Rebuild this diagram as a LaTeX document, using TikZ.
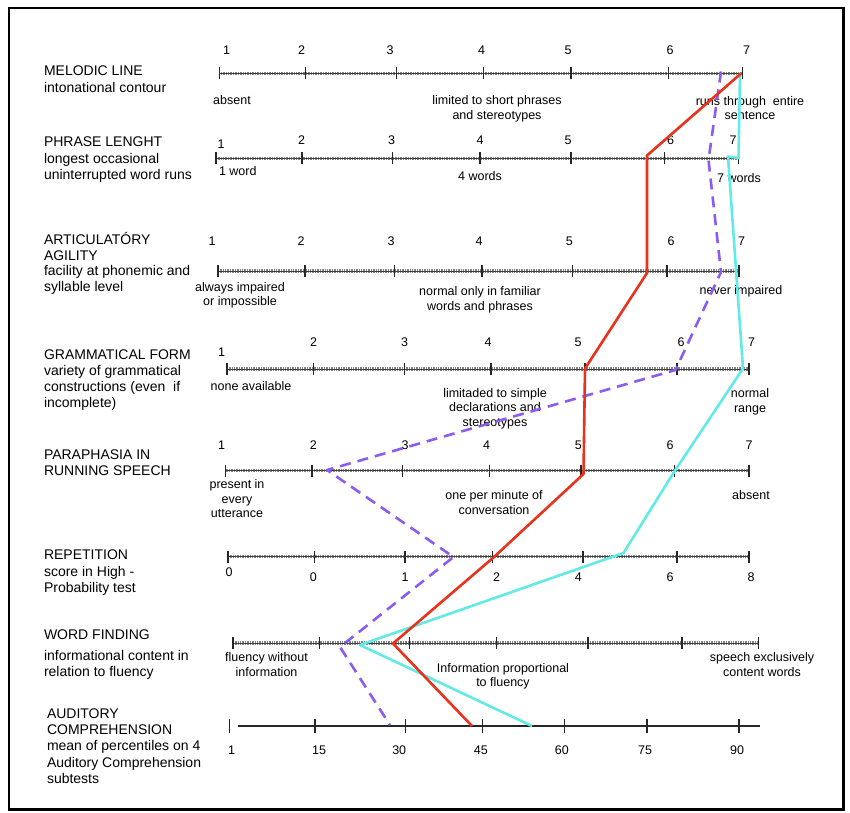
\documentclass[tikz,border=0pt]{standalone}
\usepackage{fontspec}
\setmainfont{Liberation Sans}
\usetikzlibrary{shapes,arrows}
\definecolor{profred}{RGB}{232,50,28}
\definecolor{profcyan}{RGB}{98,234,230}
\definecolor{profviolet}{RGB}{138,92,240}

\begin{document}
\begin{tikzpicture}[x=1pt,y=-1pt]
\tikzstyle{every node}=[inner sep=0pt,outer sep=0pt]
\tikzstyle{scale name}=[anchor=base west,align=left,font=\fontsize{14}{16.3}\selectfont]
\tikzstyle{anchor text}=[anchor=base,align=center,font=\fontsize{12.5}{14.5}\selectfont]
\tikzstyle{num}=[anchor=base,font=\fontsize{12.5}{14}\selectfont]
\tikzstyle{ruler}=[draw=black!75,line width=0.5pt]
\tikzstyle{hatch}=[draw=black!50,line width=3.2pt,dash pattern=on 0.6pt off 1.1pt]
\tikzstyle{major}=[draw=black!85,line width=1.4pt]
\tikzstyle{solid axis}=[draw=black!85,line width=1.6pt]
\tikzstyle{profile}=[line width=2.6pt,line join=round]

\useasboundingbox (0,0) rectangle (850,812);
\fill[white] (0,0) rectangle (850,812);
\draw[line width=2.4pt] (9,8) rectangle (843.5,809.5);

% multi-line nodes sit on the baseline of their last line
% melodic line
\draw[hatch] (219.3,73.3) -- (742.7,73.3);
\draw[ruler] (219.3,73.3) -- (742.7,73.3);
\foreach \x in {219.3,305.3,396.7,483.3,571,668.3,742.7}
  \draw[major] (\x,67.3) -- (\x,79.3);
\foreach \x/\y/\n [count=\i] in {226.7/54.5/1,301.7/54.5/2,390/54.5/3,481.7/54.5/4,568/54.5/5,670/54.5/6,746.7/54.5/7}
  \node[num] (ma\i) at (\x,\y) {\n};
\node[scale name] (melodic) at (44,92) {MELODIC LINE\\intonational contour};
\node[anchor text] (absentA) at (232,104.5) {absent};
\node[anchor text] (limited) at (497,119) {limited to short phrases\\and stereotypes};
\node[anchor text] (runs) at (750,119.5) {runs through\ \ entire\\sentence};

% phrase length
\draw[hatch] (216,158.3) -- (738.5,158.3);
\draw[ruler] (216,158.3) -- (738.5,158.3);
\foreach \x in {216,302,392.3,480,571,664.5,738.5}
  \draw[major] (\x,152.3) -- (\x,164.3);
\foreach \x/\y/\n [count=\i] in {221/148.5/1,301.7/144/2,391.7/144/3,480/144/4,568/144/5,670.7/144.5/6,733/144.5/7}
  \node[num] (pl\i) at (\x,\y) {\n};
\node[scale name] (phrase) at (44,179.5) {PHRASE LENGHT\\longest occasional\\uninterrupted word runs};
\node[anchor text,anchor=base west] (oneword) at (219,175.5) {1 word};
\node[anchor text] (fourwords) at (480,180) {4 words};
\node[anchor text] (sevenwords) at (739,182.5) {7 words};

% articulatory agility
\draw[hatch] (218,271) -- (739,271);
\draw[ruler] (218,271) -- (739,271);
\foreach \x in {218,305,394.5,481.8,572.5,667,739}
  \draw[major] (\x,265) -- (\x,277);
\foreach \x/\y/\n [count=\i] in {212/245/1,301/245/2,391/245/3,479/245/4,569.3/245/5,671/245/6,741.7/245/7}
  \node[num] (aa\i) at (\x,\y) {\n};
\node[scale name,font=\fontsize{14}{15.7}\selectfont] (artic) at (44,291.5) {ARTICULATÓRY\\AGILITY\\facility at phonemic and\\syllable level};
\node[anchor text] (always) at (240,305.5) {always impaired\\or impossible};
\node[anchor text] (familiar) at (480,310) {normal only in familiar\\words and phrases};
\node[anchor text] (never) at (741,294.5) {never impaired};

% grammatical form
\draw[hatch] (227,369) -- (749,369);
\draw[ruler] (227,369) -- (749,369);
\foreach \x in {227,313.6,404.2,491,584.9,677,749}
  \draw[major] (\x,363) -- (\x,375);
\foreach \x/\y/\n [count=\i] in {221.5/356.5/1,313.6/346.5/2,404.5/346.5/3,488/346.5/4,578/346.5/5,681/346.5/6,751.5/346.5/7}
  \node[num] (gf\i) at (\x,\y) {\n};
\node[scale name,font=\fontsize{14}{15.9}\selectfont] (gram) at (44,407) {GRAMMATICAL FORM\\variety of grammatical\\constructions (even\ \ if\\incomplete)};
\node[anchor text] (none) at (251,390) {none available};
\node[anchor text] (simple) at (495,426) {limitaded to simple\\declarations and\\stereotypes};
\node[anchor text] (normal) at (750,412) {normal\\range};

% paraphasia
\draw[hatch] (225.5,470.5) -- (749,470.5);
\draw[ruler] (225.5,470.5) -- (749,470.5);
\foreach \x in {225.5,312,402.7,489.5,581,674.5,749}
  \draw[major] (\x,464.5) -- (\x,476.5);
\foreach \x/\y/\n [count=\i] in {221.5/449.5/1,313.3/449.5/2,405/449.5/3,486.7/449.5/4,578.3/449.5/5,670/449.5/6,749/449.5/7}
  \node[num] (ps\i) at (\x,\y) {\n};
\node[scale name] (para) at (44,475.5) {PARAPHASIA IN\\RUNNING SPEECH};
\node[anchor text] (present) at (237,517.5) {present in\\every\\utterance};
\node[anchor text] (perminute) at (494,514) {one per minute of\\conversation};
\node[anchor text] (absentB) at (751,499.5) {absent};

% repetition
\draw[hatch] (228,556.5) -- (749,556.5);
\draw[ruler] (228,556.5) -- (749,556.5);
\foreach \x in {228,314.5,405,492.5,582.8,677,749}
  \draw[major] (\x,550.5) -- (\x,562.5);
\foreach \x/\y/\n [count=\i] in {229/576.5/0,313.3/581/0,405/581/1,496.7/581/2,578.3/581/4,670/581/6,751/581/8}
  \node[num] (rp\i) at (\x,\y) {\n};
\node[scale name] (rep) at (44,592.5) {REPETITION\\score in High -\\Probability test};

% word finding
\draw[hatch] (233,643) -- (758.5,643);
\draw[ruler] (233,643) -- (758.5,643);
\foreach \x in {233,319.5,409.5,496.6,588,682,758.5}
  \draw[major] (\x,637) -- (\x,649);
\node[scale name] (word) at (44,676.5) {WORD FINDING\\[4pt]informational content in\\relation to fluency};
\node[anchor text] (nofluency) at (266.5,676) {fluency without\\information};
\node[anchor text] (proportional) at (503,686.5) {Information proportional\\to fluency};
\node[anchor text] (content) at (762,676) {speech exclusively\\content words};

% auditory comprehension
\draw[solid axis] (238.3,726) -- (759.6,726);
\foreach \x in {229.3,315,405.7,482.7,564.3,646.8,739}
  \draw[major] (\x,719) -- (\x,733);
\foreach \x/\y/\n [count=\i] in {231.7/754.5/1,319/754.5/15,399.2/754.5/30,480.8/754.5/45,561.8/754.5/60,645/754.5/75,737/754.5/90}
  \node[num] (ac\i) at (\x,\y) {\n};
\node[scale name] (audit) at (47,783.5) {AUDITORY\\COMPREHENSION\\mean of percentiles on 4\\Auditory Comprehension\\subtests};

% profiles
\coordinate (r1) at (741,73.5);
\coordinate (r2) at (647,155.5);
\coordinate (r3) at (647,273);
\coordinate (r4) at (585,368.5);
\coordinate (r5) at (583.5,474);
\coordinate (r6) at (494,557);
\coordinate (r7) at (393,643.5);
\coordinate (r8) at (472,726);
\coordinate (c1) at (740,73.5);
\coordinate (c2) at (738.5,158);
\coordinate (c3) at (728,156.5);
\coordinate (c4) at (743,368.5);
\coordinate (c5) at (675,470.5);
\coordinate (c6) at (623.5,553);
\coordinate (c7) at (360,645);
\coordinate (c8) at (532,726);
\coordinate (p1) at (721,71.5);
\coordinate (p2) at (708.5,160);
\coordinate (p3) at (721,272);
\coordinate (p4) at (675.5,370);
\coordinate (p5) at (327,470);
\coordinate (p6) at (453.5,557);
\coordinate (p7) at (340,647);
\coordinate (p8) at (390,725);

\draw[profile,profviolet,dash pattern=on 11pt off 7pt] (p1) -- (p2) -- (p3) -- (p4) -- (p5) -- (p6) -- (p7) -- (p8);
\draw[profile,profcyan] (c1) -- (c2) -- (c3) -- (c4) -- (c5) -- (c6) -- (c7) -- (c8);
\draw[profile,profred] (r1) -- (r2) -- (r3) -- (r4) -- (r5) -- (r6) -- (r7) -- (r8);
\end{tikzpicture}
\end{document}
